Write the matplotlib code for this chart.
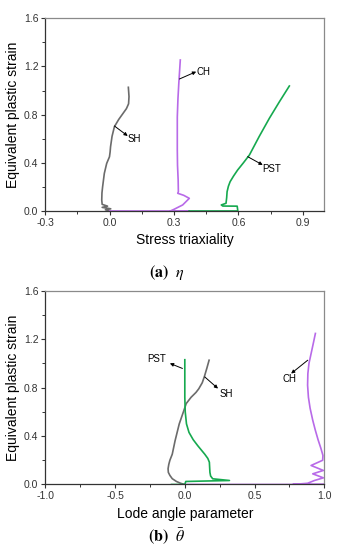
import numpy as np
import matplotlib.pyplot as plt

plt.rcParams['font.family'] = ['Liberation Sans', 'DejaVu Sans']
plt.rcParams['mathtext.fontset'] = 'stix'

# (a) stress triaxiality vs equivalent plastic strain
sh_eta = [0.0, -0.02, 0.005, -0.035, -0.01, -0.035, -0.037, -0.036, -0.033, -0.025,
          -0.014, -0.001, 0.002, 0.004, 0.011, 0.022, 0.042, 0.062, 0.078, 0.088,
          0.09, 0.087]
sh_eps = [0.0, 0.01, 0.018, 0.03, 0.04, 0.055, 0.09, 0.15, 0.2, 0.312,
          0.395, 0.45, 0.49, 0.533, 0.62, 0.7, 0.76, 0.81, 0.85, 0.89,
          0.95, 1.027]

ch_eta = [0.0, 0.37, 0.283, 0.30, 0.34, 0.371, 0.345, 0.317, 0.32, 0.319, 0.316,
          0.315, 0.315, 0.318, 0.322, 0.329]
ch_eps = [0.0, 0.0, 0.0, 0.014, 0.05, 0.105, 0.13, 0.147, 0.16, 0.257, 0.38,
          0.507, 0.78, 0.93, 1.06, 1.254]

pst_eta = [0.37, 0.597, 0.594, 0.527, 0.52, 0.542, 0.545, 0.547, 0.553, 0.561,
           0.577, 0.596, 0.623, 0.651, 0.697, 0.744, 0.79, 0.837]
pst_eps = [0.0, 0.0, 0.04, 0.041, 0.05, 0.064, 0.11, 0.16, 0.205, 0.243,
           0.29, 0.34, 0.4, 0.465, 0.62, 0.77, 0.905, 1.038]

# (b) Lode angle parameter vs equivalent plastic strain
sh_lode = [0.0, -0.03, -0.06, -0.09, -0.107, -0.118, -0.12, -0.115, -0.107, -0.09,
           -0.07, -0.04, -0.01, 0.01, 0.045, 0.08, 0.10, 0.125, 0.14, 0.158, 0.174]
sh_eps2 = [0.0, 0.01, 0.025, 0.048, 0.075, 0.1, 0.13, 0.165, 0.2, 0.25,
           0.36, 0.5, 0.6, 0.668, 0.72, 0.76, 0.79, 0.84, 0.89, 0.96, 1.026]

ch_lode = [0.0, 1.0, 0.774, 0.88, 0.929, 0.993, 0.917, 0.993, 0.905, 0.988,
           0.99, 0.975, 0.955, 0.935, 0.917, 0.898, 0.886, 0.88, 0.882, 0.89,
           0.905, 0.92, 0.936]
ch_eps2 = [0.0, 0.0, 0.0, 0.01, 0.033, 0.055, 0.088, 0.116, 0.157, 0.2,
           0.24, 0.3, 0.37, 0.45, 0.53, 0.63, 0.72, 0.82, 0.916, 1.0,
           1.08, 1.16, 1.247]

pst_lode = [-0.095, 0.0, 0.007, 0.32, 0.2, 0.185, 0.18, 0.176, 0.165, 0.143,
            0.118, 0.093, 0.06, 0.03, 0.012, 0.003, 0.0, 0.0]
pst_eps2 = [0.0, 0.0, 0.025, 0.033, 0.047, 0.07, 0.10, 0.184, 0.215, 0.25,
            0.285, 0.32, 0.37, 0.43, 0.5, 0.6, 0.72, 1.03]

gray = '#6b6b6b'
purple = '#b86ae8'
green = '#16a94f'


def style_axes(ax, xlim, xmajor, xminor, xlabel):
    ax.set_xlim(*xlim)
    ax.set_ylim(0, 1.6)
    ax.set_xticks(xmajor)
    ax.set_xticks(xminor, minor=True)
    ax.set_yticks(np.arange(0, 1.61, 0.4))
    ax.set_yticks(np.arange(0.2, 1.6, 0.4), minor=True)
    ax.set_xticklabels([f'{v:.1f}' for v in xmajor])
    ax.set_yticklabels([f'{v:.1f}' for v in np.arange(0, 1.61, 0.4)])
    ax.tick_params(which='major', direction='out', length=3, width=0.8,
                   labelsize=7.5, pad=2, colors='#333333')
    ax.tick_params(which='minor', direction='out', length=2, width=0.7,
                   colors='#333333')
    for s in ['left', 'bottom']:
        ax.spines[s].set_color('#333333')
        ax.spines[s].set_linewidth(0.9)
    for s in ['top', 'right']:
        ax.spines[s].set_color('#8a8a8a')
        ax.spines[s].set_linewidth(0.9)
    ax.set_xlabel(xlabel, fontsize=10, labelpad=4)
    ax.set_ylabel('Equivalent plastic strain', fontsize=10, labelpad=3)


def label(ax, text, tail, head, pos):
    ax.annotate('', xy=head, xytext=tail,
                arrowprops=dict(arrowstyle='-|>', color='k', lw=0.7,
                                mutation_scale=5, shrinkA=0, shrinkB=0))
    ax.text(pos[0], pos[1], text, fontsize=7, ha='center', va='center')


fig = plt.figure(figsize=(3.37, 5.5), dpi=100)

ax1 = fig.add_axes([0.1344, 0.6164, 0.828, 0.3503])
ax1.plot(sh_eta, sh_eps, color=gray, lw=1.2)
ax1.plot(ch_eta, ch_eps, color=purple, lw=1.2)
ax1.plot(pst_eta, pst_eps, color=green, lw=1.2)
style_axes(ax1, (-0.3, 1.0), [-0.3, 0.0, 0.3, 0.6, 0.9],
           [-0.15, 0.15, 0.45, 0.75], 'Stress triaxiality')
label(ax1, 'SH', (0.022, 0.706), (0.084, 0.623), (0.113, 0.595))
label(ax1, 'CH', (0.325, 1.096), (0.403, 1.157), (0.437, 1.152))
label(ax1, 'PST', (0.643, 0.451), (0.713, 0.382), (0.756, 0.346))

ax2 = fig.add_axes([0.1344, 0.1191, 0.828, 0.3524])
ax2.plot(sh_lode, sh_eps2, color=gray, lw=1.2)
ax2.plot(ch_lode, ch_eps2, color=purple, lw=1.2)
ax2.plot(pst_lode, pst_eps2, color=green, lw=1.2)
style_axes(ax2, (-1.0, 1.0), [-1.0, -0.5, 0.0, 0.5, 1.0],
           [-0.75, -0.25, 0.25, 0.75], 'Lode angle parameter')
label(ax2, 'PST', (-0.017, 0.958), (-0.107, 1.0), (-0.205, 1.035))
label(ax2, 'SH', (0.143, 0.888), (0.238, 0.792), (0.295, 0.75))
label(ax2, 'CH', (0.881, 1.026), (0.762, 0.916), (0.748, 0.87))

fig.text(0.496, 1 - 273 / 550, r'$\mathbf{(a)}\ \ \eta$', ha='center',
         va='center', fontsize=11.5)
fig.text(0.493, 1 - 537 / 550, r'$\mathbf{(b)}\ \ \bar{\theta}$', ha='center',
         va='center', fontsize=11.5)

fig.savefig('out.png', dpi=100)
